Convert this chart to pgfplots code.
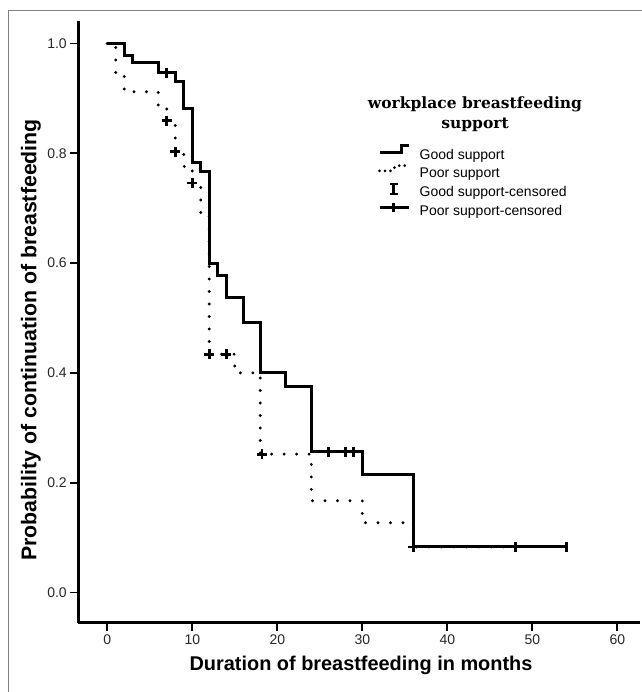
\documentclass[border=0pt]{standalone}
\usepackage{fontspec}
\setmainfont{Liberation Sans}
\newfontfamily\titleserif{DejaVu Serif}
\usepackage{pgfplots}
\usepackage{pgfplotstable}
\pgfplotsset{compat=1.18}

% Kaplan-Meier steps: time (months), survival
\pgfplotstableread{
t s
0 1.000
2 0.979
3 0.965
6 0.947
8 0.930
9 0.881
10 0.783
11 0.766
12 0.600
13 0.578
14 0.537
16 0.491
18 0.400
21 0.375
24 0.256
30 0.214
36 0.083
54 0.083
}\goodsurv

\pgfplotstableread{
t s
0 1.000
1 0.940
2 0.912
6 0.886
7 0.859
8 0.803
9 0.776
10 0.746
11 0.691
12 0.434
15 0.400
18 0.252
24 0.167
30 0.127
36 0.083
48 0.083
}\poorsurv

\pgfplotstableread{
t s
7 0.947
26 0.256
28 0.256
29 0.256
48 0.083
54 0.083
}\goodcens

\pgfplotstableread{
t s
7 0.859
8 0.803
10 0.746
12 0.434
14 0.434
18.2 0.252
36 0.083
48 0.083
}\poorcens

\begin{document}
\begin{tikzpicture}
\path[use as bounding box] (-78.3pt,-69pt) rectangle (562.7pt,623pt);
\begin{axis}[
    scale only axis,
    width=562pt, height=602.3pt,
    xmin=-3.41, xmax=62.7,
    ymin=-0.0556, ymax=1.0415,
    axis lines*=left,
    axis line style={line width=3pt, black},
    xtick={0,10,...,60},
    ytick={0,0.2,0.4,0.6,0.8,1.0},
    yticklabel style={/pgf/number format/fixed, /pgf/number format/fixed zerofill, /pgf/number format/precision=1},
    /pgf/number format/assume math mode=true,
    tick align=outside,
    major tick length=8pt,
    tick style={line width=1.8pt, black},
    ticklabel style={font=\fontsize{14}{16}\selectfont, text=black!85},
    xlabel={Duration of breastfeeding in months},
    ylabel={Probability of continuation of breastfeeding},
    every axis x label/.style={at={(axis description cs:0.503,-0.0697)}, anchor=center, font=\bfseries\fontsize{19.9}{22}\selectfont},
    every axis y label/.style={at={(axis description cs:-0.0842,0.470)}, anchor=center, rotate=90, font=\bfseries\fontsize{21.3}{23}\selectfont},
    legend style={at={(axis description cs:0.5333,0.7953)}, anchor=north west, draw=none, fill=none,
        inner sep=0pt, outer sep=0pt, font=\fontsize{14}{16}\selectfont, row sep=0pt, column sep=9.7pt,
        nodes={inner sep=0pt, text height=13pt, text depth=5pt}},
    legend cell align=left,
]
\addplot[const plot, black, line width=3.2pt, line cap=round, dash pattern=on 0pt off 12.5pt, forget plot] table[x=t, y=s] {\poorsurv};
\addplot[const plot, black, line width=3pt, forget plot] table[x=t, y=s] {\goodsurv};
\addplot[only marks, mark=|, mark size=5pt, mark options={line width=3pt, black}, forget plot] table[x=t, y=s] {\goodcens};
\addplot[only marks, mark=+, mark size=5pt, mark options={line width=2.8pt, black}, forget plot] table[x=t, y=s] {\poorcens};

\addlegendimage{legend image code/.code={\draw[black, line width=2.8pt] (0pt,2.7pt) -- (21.7pt,2.7pt) -- (21.7pt,9.7pt) -- (29pt,9.7pt);}}
\addlegendentry{Good support}
\addlegendimage{legend image code/.code={\draw[black, line width=3pt, line cap=round, dash pattern=on 0pt off 5.5pt] (0pt,2.7pt) -- (12pt,2.7pt) -- (17pt,8pt) -- (29pt,8pt);}}
\addlegendentry{Poor support}
\addlegendimage{legend image code/.code={\draw[black, line width=2.8pt] (14.3pt,-1pt) -- (14.3pt,9pt); \draw[black, line width=2.2pt] (10.3pt,-1pt) -- (18.3pt,-1pt) (10.3pt,9pt) -- (18.3pt,9pt);}}
\addlegendentry{Good support-censored}
\addlegendimage{legend image code/.code={\draw[black, line width=2.8pt] (0pt,4pt) -- (29pt,4pt) (14pt,-0.5pt) -- (14pt,8.5pt);}}
\addlegendentry{Poor support-censored}

\node[align=center, font=\titleserif\bfseries\fontsize{15.5}{20}\selectfont] at (axis description cs:0.7059,0.8451) {workplace breastfeeding\\support};
\end{axis}
\draw[gray, line width=1.2pt] (-70pt,-80pt) -- (-70pt,612.3pt) -- (580pt,612.3pt);
\end{tikzpicture}
\end{document}
